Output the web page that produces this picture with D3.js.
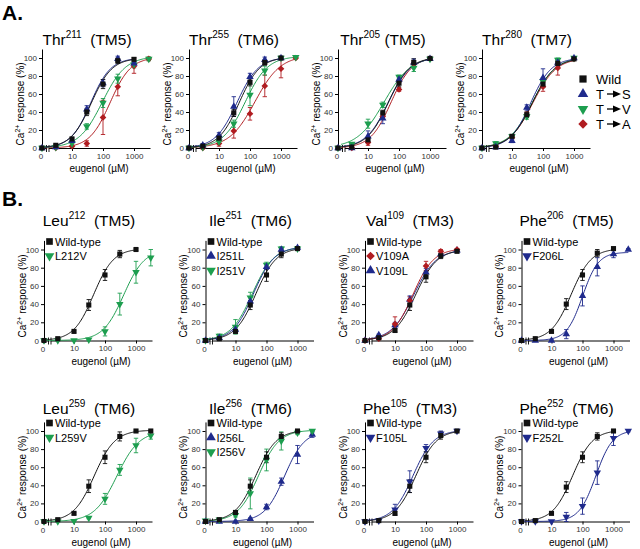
<!DOCTYPE html>
<html>
<head>
<meta charset="utf-8">
<script src="https://cdn.jsdelivr.net/npm/d3@7"></script>
<style>
  body { margin: 0; background: #fff; }
  text { font-family: "Liberation Sans", Arial, sans-serif; }
</style>
</head>
<body>
<svg id="fig" width="640" height="549"></svg>
<script>
// eugenol concentrations (uM); 0 = vehicle
const conc = [0, 3, 10, 30, 100, 300, 1000, 3000];
const xTicks = [10, 100, 1000];
const yTicks = [0, 20, 40, 60, 80, 100];

// v = Ca2+ response (%) per conc (null = not tested), e = SEM, fit = [EC50, Hill, top]
const thr211 = [
  {k: "red",    v: [0, 0, 2, 5, 34, 68, 91, 99],          e: [0, 0, 1, 3, 19, 10, 8, 2], fit: [170, 1.3, 101]},
  {k: "green",  v: [0, 1, 5, 24, 50, 77, 93, 99],         e: [0, 1, 2, 3, 5, 5, 4, 2],   fit: [95, 1.15, 102]},
  {k: "blueUp", v: [0, 1, 8, 43, 72, 99, 94, null],       e: [0, 1, 2, 4, 4, 3, 3, 0],   fit: [40, 1.35, 100]},
  {k: "wt",     v: [0, 3, 10, 40, 71, 97, 98.5, null],    e: [0, 1, 2, 4, 5, 3, 2, 0],   fit: [42, 1.3, 100]}
];
const thr255 = [
  {k: "red",    v: [0, 0, 5, 19, 38, 69, 88, 100],        e: [0, 1, 3, 8, 7, 12, 10, 1], fit: [145, 1.05, 103]},
  {k: "green",  v: [0, 1, 7, 27, 59, 86, 100, 101],       e: [0, 1, 2, 4, 12, 5, 1, 1],  fit: [70, 1.2, 102]},
  {k: "blueUp", v: [0, 3, 14, 46, 79, 98, 100, null],     e: [0, 2, 3, 11, 4, 3, 1, 0],  fit: [38, 1.25, 101]},
  {k: "wt",     v: [0, 2, 11, 39, 73, 95, 100, null],     e: [0, 1, 2, 4, 4, 3, 1, 0],   fit: [45, 1.3, 101]}
];
const thr205 = [
  {k: "red",    v: [0, 0, 6, 35, 65, 94, 99, null],       e: [0, 1, 3, 3, 2, 3, 1, 0],   fit: [55, 1.3, 101]},
  {k: "green",  v: [0, 4.5, 27, 48, 79, 89, 99, null],    e: [0, 1, 5, 3, 2, 4, 1, 0],   fit: [33, 1.0, 102]},
  {k: "blueUp", v: [0, 0, 13, 33, 76, 95, 99, null],      e: [0, 1, 6, 6, 3, 4, 1, 0],   fit: [45, 1.2, 101]},
  {k: "wt",     v: [0, 1, 9, 39, 72, 95, 99.5, null],     e: [0, 1, 2, 3, 4, 4, 1, 0],   fit: [45, 1.25, 101]}
];
const thr280 = [
  {k: "red",    v: [0, 2, 12, 37, 68, 89, 99, null],      e: [0, 1, 2, 3, 5, 8, 1, 0],   fit: [47, 1.15, 100]},
  {k: "green",  v: [0, 5, 13, 35, 74, 98, 100, null],     e: [0, 2, 2, 3, 4, 2, 1, 0],   fit: [45, 1.15, 101]},
  {k: "blueUp", v: [0, 1, 8, 45, 78, 95, 100, null],      e: [0, 1, 2, 3, 10, 3, 1, 0],  fit: [40, 1.3, 100]},
  {k: "wt",     v: [0, 1, 13, 37, 71, 94, 99, null],      e: [0, 1, 2, 3, 4, 3, 1, 0],   fit: [45, 1.2, 100]}
];
const leu212 = [
  {k: "green",  v: [0, 0, 0, 1, 10, 40, 75, 91],          e: [0, 0, 0, 1, 5, 12, 12, 9], fit: [400, 1.3, 100]},
  {k: "wt",     v: [0, 2, 10, 39, 72, 95, 100, null],     e: [0, 1, 1, 6, 6, 4, 1, 0],   fit: [43, 1.35, 101]}
];
const ile251 = [
  {k: "green",  v: [0, 5, 15, 47, 83, 101, 101, null],    e: [0, 2, 8, 6, 3, 2, 1, 0],   fit: [35, 1.25, 103]},
  {k: "blueUp", v: [0, 3, 12, 43, 81, 100, 102, null],    e: [0, 2, 3, 4, 3, 2, 1, 0],   fit: [38, 1.3, 103]},
  {k: "wt",     v: [0, 2, 10, 39, 72, 95, 101, null],     e: [0, 1, 2, 5, 7, 4, 1, 0],   fit: [45, 1.3, 102]}
];
const val109 = [
  {k: "blueUp", v: [0, 6, 17, 45, 75, 95, 99, null],      e: [0, 1, 3, 4, 4, 3, 1, 0],   fit: [40, 1.2, 100]},
  {k: "red",    v: [0, 2, 18, 44, 82, 98, 100, null],     e: [0, 1, 8, 4, 5, 2, 1, 0],   fit: [38, 1.3, 101]},
  {k: "wt",     v: [0, 3, 11, 39, 70, 93, 98, null],      e: [0, 1, 2, 6, 6, 3, 1, 0],   fit: [46, 1.25, 100]}
];
const phe206 = [
  {k: "blueUp", v: [0, 0, 0, 7, 49, 81, 95, 100],         e: [0, 0, 1, 5, 11, 10, 4, 1], fit: [100, 1.7, 97]},
  {k: "wt",     v: [0, 2, 10, 40, 72, 96, 101, null],     e: [0, 1, 1, 6, 6, 4, 1, 0],   fit: [43, 1.35, 101]}
];
const leu259 = [
  {k: "green",  v: [0, 0, 0.5, 4, 25, 57, 84, 95],        e: [0, 0, 0, 1, 6, 6, 8, 4],   fit: [240, 1.2, 100]},
  {k: "wt",     v: [0, 2, 9, 39, 71, 94, 100, 100],       e: [0, 1, 1, 7, 7, 5, 1, 1],   fit: [45, 1.3, 101]}
];
const ile256 = [
  {k: "blueUp", v: [0, 0, 0, 3, 16, 44, 74, 96],          e: [0, 0, 0, 1, 3, 4, 10, 3],  fit: [380, 1.35, 100]},
  {k: "green",  v: [1, 2, 7, 31, 68, 89, 98, 100],        e: [1, 1, 2, 17, 12, 10, 2, 1], fit: [55, 1.3, 101]},
  {k: "wt",     v: [0, 2, 10, 39, 71, 94, 100, null],     e: [0, 1, 1, 7, 6, 4, 1, 0],   fit: [45, 1.3, 101]}
];
const phe105 = [
  {k: "blueDown", v: [0, 1, 13, 44, 81, 97, 100, null],   e: [0, 1, 6, 12, 4, 3, 1, 0],  fit: [38, 1.3, 101]},
  {k: "wt",     v: [0, 1, 9, 39, 71, 95, 100, null],      e: [0, 1, 2, 7, 6, 4, 1, 0],   fit: [47, 1.3, 101]}
];
const phe252 = [
  {k: "blueDown", v: [0, 0, 0, 5, 17, 54, 92, 100],       e: [0, 0, 0, 5, 9, 13, 8, 1],  fit: [270, 1.6, 101]},
  {k: "wt",     v: [0, 1, 9, 38, 71, 94, 100, null],      e: [0, 1, 1, 6, 6, 4, 1, 0],   fit: [48, 1.35, 101]}
];

const panels = [
  {res: "Thr", num: "211", tm: "\u00a0\u00a0(TM5)", row: 0, col: 0, data: thr211, legend: []},
  {res: "Thr", num: "255", tm: "\u00a0\u00a0(TM6)", row: 0, col: 1, data: thr255, legend: []},
  {res: "Thr", num: "205", tm: "\u00a0(TM5)",       row: 0, col: 2, data: thr205, legend: []},
  {res: "Thr", num: "280", tm: "\u00a0\u00a0(TM7)", row: 0, col: 3, data: thr280, legend: []},
  {res: "Leu", num: "212", tm: "\u00a0\u00a0(TM5)", row: 1, col: 0, data: leu212, legend: [["wt", "Wild-type"], ["green", "L212V"]]},
  {res: "Ile", num: "251", tm: "\u00a0\u00a0(TM6)", row: 1, col: 1, data: ile251, legend: [["wt", "Wild-type"], ["blueUp", "I251L"], ["green", "I251V"]]},
  {res: "Val", num: "109", tm: "\u00a0\u00a0(TM3)", row: 1, col: 2, data: val109, legend: [["wt", "Wild-type"], ["red", "V109A"], ["blueUp", "V109L"]]},
  {res: "Phe", num: "206", tm: "\u00a0\u00a0(TM5)", row: 1, col: 3, data: phe206, legend: [["wt", "Wild-type"], ["blueDown", "F206L"]]},
  {res: "Leu", num: "259", tm: "\u00a0\u00a0(TM6)", row: 2, col: 0, data: leu259, legend: [["wt", "Wild-type"], ["green", "L259V"]]},
  {res: "Ile", num: "256", tm: "\u00a0\u00a0(TM6)", row: 2, col: 1, data: ile256, legend: [["wt", "Wild-type"], ["blueUp", "I256L"], ["green", "I256V"]]},
  {res: "Phe", num: "105", tm: "\u00a0\u00a0(TM3)", row: 2, col: 2, data: phe105, legend: [["wt", "Wild-type"], ["blueDown", "F105L"]]},
  {res: "Phe", num: "252", tm: "\u00a0\u00a0(TM6)", row: 2, col: 3, data: phe252, legend: [["wt", "Wild-type"], ["blueDown", "F252L"]]}
];

// panel A legend
const legendA = [["wt", "Wild", ""], ["blueUp", "T", "S"], ["green", "T", "V"], ["red", "T", "A"]];

// layout
const rowY0 = [148, 340.5, 521.5];      // y of 0 %
const rowY100 = [58, 249.5, 431];       // y of 100 %
const rowTitle = [45, 226, 414];        // title baselines
const colX0 = [[42, 189, 338, 482], [44, 205.5, 365, 521.5], [44, 205.5, 365, 521.5]];

const styles = {
  wt:       {color: "#111111", sym: d3.symbolSquare,   rot: 0,   size: 26},
  blueUp:   {color: "#1f2a8c", sym: d3.symbolTriangle, rot: 0,   size: 24},
  blueDown: {color: "#1f2a8c", sym: d3.symbolTriangle, rot: 180, size: 24},
  green:    {color: "#1d9e4f", sym: d3.symbolTriangle, rot: 180, size: 24},
  red:      {color: "#b01c20", sym: d3.symbolSquare,   rot: 45,  size: 22}
};

const svg = d3.select("#fig");

function marker(g, key, x, y, scale) {
  const st = styles[key];
  g.append("path")
    .attr("d", d3.symbol().type(st.sym).size(st.size * (scale || 1))())
    .attr("transform", `translate(${x},${y}) rotate(${st.rot})`)
    .attr("fill", st.color);
}

function hill(c, f) {
  return f[2] / (1 + Math.pow(f[0] / c, f[1]));
}

function drawPanel(p) {
  const x0 = colX0[p.row][p.col];
  const y0 = rowY0[p.row], y100 = rowY100[p.row];
  const xEnd = x0 + 108;
  const g = svg.append("g");

  const y = d3.scaleLinear().domain([0, 110]).range([y0, y0 - 1.1 * (y0 - y100)]);
  const xl = d3.scaleLog().domain([10, 1000]).range([x0 + 30, x0 + 92]);
  const x = d3.scaleLog().domain([xl.invert(x0), xl.invert(xEnd)]).range([x0, xEnd]);
  const xp = c => c === 0 ? x0 : x(c);

  // axes
  const ya = g.append("g").attr("transform", `translate(${x0},0)`)
    .call(d3.axisLeft(y).tickValues(yTicks).tickSize(3).tickSizeOuter(0).tickPadding(2));
  const xa = g.append("g").attr("transform", `translate(0,${y0})`)
    .call(d3.axisBottom(x).tickValues(xTicks).tickFormat(d3.format("d")).tickSize(3).tickSizeOuter(0).tickPadding(2));
  [ya, xa].forEach(a => {
    a.attr("font-size", 8).attr("font-family", null);
    a.selectAll("text").attr("fill", "#333");
    a.selectAll("path, line").attr("stroke", "#000").attr("stroke-width", 1);
  });
  // zero tick on the x axis + break marks
  g.append("line").attr("x1", x0).attr("x2", x0).attr("y1", y0).attr("y2", y0 + 3).attr("stroke", "#000");
  g.append("text").attr("x", x0 - 1).attr("y", y0 + 11).attr("text-anchor", "middle")
    .attr("font-size", 8).attr("fill", "#333").text("0");
  g.append("rect").attr("x", x0 + 4.5).attr("y", y0 - 1).attr("width", 2.5).attr("height", 2).attr("fill", "#fff");
  [x0 + 4.5, x0 + 7].forEach(bx => {
    g.append("line").attr("x1", bx).attr("x2", bx).attr("y1", y0 - 3).attr("y2", y0 + 4)
      .attr("stroke", "#000").attr("stroke-width", 0.9);
  });

  // axis titles
  g.append("text").attr("x", x0 + 57).attr("y", y0 + 24).attr("text-anchor", "middle")
    .attr("font-size", 10).text("eugenol (\u00b5M)");
  const yl = g.append("text").attr("transform", `translate(${x0 - 18.5},${y(49)}) rotate(-90)`)
    .attr("text-anchor", "middle").attr("font-size", 10);
  yl.append("tspan").text("Ca");
  yl.append("tspan").attr("font-size", 7).attr("dy", -4).text("2+");
  yl.append("tspan").attr("dy", 4).text(" response (%)");

  // panel title
  const t = g.append("text").attr("x", x0 + 45).attr("y", rowTitle[p.row])
    .attr("text-anchor", "middle").attr("font-size", 15.5);
  t.append("tspan").text(p.res);
  t.append("tspan").attr("font-size", 10).attr("dy", -7).text(p.num);
  t.append("tspan").attr("dy", 7).text(p.tm);

  // fitted curves
  const line = d3.line().x(d => x(d[0])).y(d => y(d[1]));
  p.data.forEach(s => {
    const last = d3.max(conc.filter((c, i) => s.v[i] !== null));
    const lo = x.invert(x0 + 3);
    const pts = d3.range(0, 121).map(i => {
      const c = lo * Math.pow(last / lo, i / 120);
      return [c, hill(c, s.fit)];
    });
    g.append("path").attr("d", line(pts)).attr("fill", "none")
      .attr("stroke", styles[s.k].color).attr("stroke-width", 1);
  });

  // error bars and points
  p.data.forEach(s => {
    const col = styles[s.k].color;
    conc.forEach((c, i) => {
      if (s.v[i] === null || !s.e[i]) return;
      const cx = xp(c), lo = y(s.v[i] - s.e[i]), hi = y(s.v[i] + s.e[i]);
      g.append("line").attr("x1", cx).attr("x2", cx).attr("y1", lo).attr("y2", hi)
        .attr("stroke", col).attr("stroke-width", 0.9);
      [lo, hi].forEach(yy => g.append("line").attr("x1", cx - 2.2).attr("x2", cx + 2.2)
        .attr("y1", yy).attr("y2", yy).attr("stroke", col).attr("stroke-width", 0.9));
    });
  });
  p.data.forEach(s => {
    conc.forEach((c, i) => {
      if (s.v[i] === null) return;
      marker(g, s.k, xp(c), y(s.v[i]));
    });
  });

  // legend (panel B)
  p.legend.forEach((l, i) => {
    const ly = y100 - 8 + i * 14.5;
    marker(g, l[0], x0 + 5.5, ly, 1.7);
    g.append("text").attr("x", x0 + 11).attr("y", ly + 4).attr("font-size", 11).text(l[1]);
  });
}

panels.forEach(drawPanel);

// panel A legend
legendA.forEach((l, i) => {
  const ly = 79 + i * 15;
  marker(svg, l[0], 583, ly, 2);
  svg.append("text").attr("x", 596).attr("y", ly + 5).attr("font-size", 13).text(l[1]);
  if (l[2]) {
    svg.append("line").attr("x1", 607).attr("x2", 614).attr("y1", ly).attr("y2", ly)
      .attr("stroke", "#000").attr("stroke-width", 1.3);
    svg.append("path").attr("d", `M613,${ly - 3.5}L621,${ly}L613,${ly + 3.5}Z`).attr("fill", "#000");
    svg.append("text").attr("x", 622).attr("y", ly + 5).attr("font-size", 13).text(l[2]);
  }
});

// figure letters
svg.append("text").attr("x", 2).attr("y", 20).attr("font-size", 21).attr("font-weight", "bold").text("A.");
svg.append("text").attr("x", 2).attr("y", 206).attr("font-size", 21).attr("font-weight", "bold").text("B.");
</script>
</body>
</html>
